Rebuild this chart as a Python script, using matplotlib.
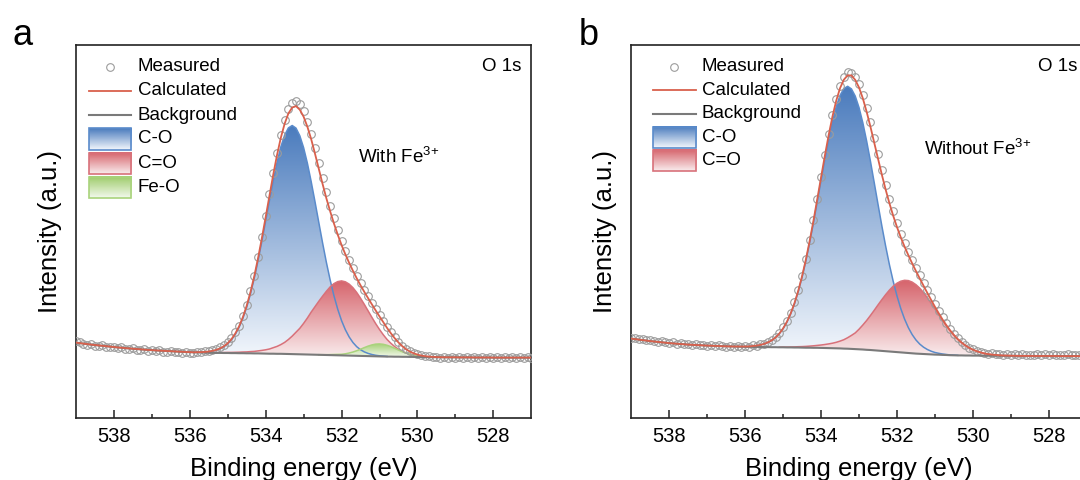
import numpy as np
import matplotlib
matplotlib.use('Agg')
import matplotlib.pyplot as plt
from matplotlib.colors import LinearSegmentedColormap
from matplotlib.patches import Rectangle

plt.rcParams['font.family'] = ['Liberation Sans', 'DejaVu Sans']
plt.rcParams['mathtext.default'] = 'regular'

# binding energy grid (eV), shared by both spectra
energy = [
    539.0, 538.9, 538.8, 538.7, 538.6, 538.5, 538.4, 538.3, 538.2, 538.1,
    538.0, 537.9, 537.8, 537.7, 537.6, 537.5, 537.4, 537.3, 537.2, 537.1,
    537.0, 536.9, 536.8, 536.7, 536.6, 536.5, 536.4, 536.3, 536.2, 536.1,
    536.0, 535.9, 535.8, 535.7, 535.6, 535.5, 535.4, 535.3, 535.2, 535.1,
    535.0, 534.9, 534.8, 534.7, 534.6, 534.5, 534.4, 534.3, 534.2, 534.1,
    534.0, 533.9, 533.8, 533.7, 533.6, 533.5, 533.4, 533.3, 533.2, 533.1,
    533.0, 532.9, 532.8, 532.7, 532.6, 532.5, 532.4, 532.3, 532.2, 532.1,
    532.0, 531.9, 531.8, 531.7, 531.6, 531.5, 531.4, 531.3, 531.2, 531.1,
    531.0, 530.9, 530.8, 530.7, 530.6, 530.5, 530.4, 530.3, 530.2, 530.1,
    530.0, 529.9, 529.8, 529.7, 529.6, 529.5, 529.4, 529.3, 529.2, 529.1,
    529.0, 528.9, 528.8, 528.7, 528.6, 528.5, 528.4, 528.3, 528.2, 528.1,
    528.0, 527.9, 527.8, 527.7, 527.6, 527.5, 527.4, 527.3, 527.2, 527.1,
    527.0]

# ---- panel a: with Fe3+ ----
meas_a = [
    76.6, 75.2, 74.1, 73.0, 73.4, 72.0, 71.5, 72.3, 71.0, 70.2,
    70.9, 69.6, 70.3, 69.0, 68.4, 69.5, 68.1, 67.6, 68.6, 67.0,
    67.9, 66.5, 67.4, 66.0, 65.8, 66.9, 65.4, 65.7, 64.9, 65.9,
    64.8, 65.0, 65.8, 65.2, 66.4, 66.9, 67.5, 68.9, 70.8, 72.6,
    75.8, 79.5, 85.6, 92.0, 101.8, 112.5, 126.9, 142.0, 160.4, 180.5,
    201.8, 223.5, 244.5, 264.6, 282.5, 297.8, 308.5, 314.5, 316.2, 314.0,
    306.4, 296.0, 283.5, 269.6, 254.5, 239.9, 225.3, 211.8, 199.2, 187.2,
    176.4, 166.8, 158.0, 149.5, 141.8, 134.6, 127.9, 121.2, 114.8, 108.6,
    102.5, 96.8, 91.0, 85.4, 80.6, 76.0, 72.1, 68.9, 66.6, 64.5,
    63.4, 62.3, 61.2, 61.6, 60.3, 60.9, 59.8, 60.6, 59.9, 60.8,
    59.6, 60.5, 59.9, 60.9, 59.7, 60.3, 59.5, 60.6, 59.8, 60.4,
    59.6, 60.7, 59.9, 60.2, 59.5, 60.5, 59.8, 60.3, 59.7, 60.4,
    60.0]
bg_a = [
    75.0, 74.5, 74.0, 73.5, 73.0, 72.6, 72.2, 71.8, 71.4, 71.0,
    70.6, 70.2, 69.9, 69.5, 69.2, 68.9, 68.6, 68.3, 68.0, 67.7,
    67.5, 67.2, 67.0, 66.8, 66.6, 66.4, 66.2, 66.0, 65.8, 65.6,
    65.5, 65.3, 65.2, 65.1, 65.0, 64.9, 64.8, 64.7, 64.7, 64.6,
    64.6, 64.5, 64.5, 64.4, 64.4, 64.3, 64.3, 64.2, 64.2, 64.1,
    64.0, 63.9, 63.9, 63.8, 63.8, 63.7, 63.6, 63.5, 63.4, 63.3,
    63.2, 63.1, 63.0, 62.9, 62.8, 62.7, 62.6, 62.5, 62.4, 62.3,
    62.2, 62.1, 62.0, 61.9, 61.8, 61.7, 61.6, 61.5, 61.4, 61.3,
    61.2, 61.1, 61.0, 61.0, 60.9, 60.9, 60.8, 60.8, 60.7, 60.7,
    60.6, 60.6, 60.5, 60.5, 60.4, 60.4, 60.4, 60.3, 60.3, 60.3,
    60.3, 60.2, 60.2, 60.2, 60.2, 60.1, 60.1, 60.1, 60.1, 60.1,
    60.0, 60.0, 60.0, 60.0, 60.0, 60.0, 60.0, 60.0, 60.0, 60.0,
    60.0]
co_a = [0.0] * 32 + [
    0.2, 0.4, 0.6, 1.0, 1.7, 2.7, 4.1, 6.2, 9.1, 13.2, 18.7, 25.8, 34.8,
    46.0, 59.4, 75.1, 92.7, 112.1, 132.5, 153.1, 173.0, 191.3, 206.8, 218.6,
    226.1, 228.6, 226.1, 218.6, 206.8, 191.3, 173.0, 153.1, 132.5, 112.1,
    92.7, 75.1, 59.4, 46.0, 34.8, 25.8, 18.7, 13.2, 9.1, 6.2, 4.1, 2.7, 1.7,
    1.0, 0.6, 0.4, 0.2] + [0.0] * 38
cdo_a = [0.0] * 34 + [
    0.1, 0.2, 0.3, 0.3, 0.4, 0.5,
    0.6, 0.7, 0.8, 1.0, 1.2, 1.4, 1.7, 2.0, 2.5, 3.1,
    3.8, 4.7, 6.0, 7.4, 9.2, 11.5, 14.5, 18.0, 22.0, 26.0,
    31.0, 36.5, 42.5, 48.0, 53.5, 58.7, 63.7, 68.2, 71.6, 73.7,
    74.5, 73.7, 71.5, 68.0, 63.3, 57.7, 51.6, 45.2, 38.8, 32.6,
    26.9, 21.7, 17.1, 13.3, 10.1, 7.5, 5.5, 3.9, 2.7, 1.9,
    1.3, 0.8, 0.5, 0.3, 0.2, 0.1] + [0.0] * 25
feo_a = [0.0] * 64 + [
    0.1, 0.2, 0.3, 0.5, 0.7, 0.9, 1.1, 1.7, 2.6, 3.7, 5.1, 6.7, 8.4, 10.0,
    11.3, 12.2, 12.5, 12.2, 11.3, 10.0, 8.4, 6.7, 5.1, 3.7, 2.6, 1.7, 1.1,
    0.6, 0.4, 0.2, 0.1] + [0.0] * 26

# ---- panel b: without Fe3+ ----
meas_b = [
    80.0, 79.4, 78.2, 78.8, 77.3, 77.9, 76.4, 76.0, 76.8, 75.2,
    74.9, 75.6, 74.1, 74.6, 73.5, 74.0, 72.9, 73.6, 72.5, 73.1,
    71.9, 72.7, 71.5, 72.3, 71.2, 70.8, 71.9, 70.6, 71.4, 70.5,
    71.8, 70.9, 72.2, 71.8, 73.4, 74.0, 76.1, 77.6, 81.0, 84.5,
    90.2, 96.4, 105.0, 115.2, 127.9, 142.0, 158.9, 177.5, 197.3, 219.0,
    240.9, 262.8, 283.6, 302.4, 318.8, 331.5, 340.6, 345.8, 345.0, 340.9,
    333.6, 322.9, 309.8, 295.2, 279.6, 263.5, 247.8, 232.9, 219.0, 206.3,
    194.6, 184.1, 174.5, 165.8, 157.6, 149.8, 142.3, 134.9, 127.6, 120.4,
    113.5, 106.8, 100.4, 94.5, 89.0, 84.0, 79.6, 75.9, 72.7, 70.1,
    68.2, 66.6, 65.3, 64.6, 63.9, 64.4, 63.2, 63.8, 62.9, 63.5,
    62.6, 63.4, 62.8, 63.6, 62.5, 63.1, 62.7, 63.5, 62.4, 63.2,
    62.8, 63.6, 62.5, 63.0, 62.6, 63.4, 62.3, 63.1, 62.7, 63.3,
    62.9]
bg_b = [
    79.0, 78.5, 78.0, 77.5, 77.0, 76.5, 76.1, 75.7, 75.3, 74.9,
    74.5, 74.2, 73.9, 73.6, 73.3, 73.0, 72.8, 72.6, 72.4, 72.2,
    72.0, 71.9, 71.7, 71.6, 71.4, 71.3, 71.2, 71.1, 71.0, 70.9,
    70.8, 70.7, 70.7, 70.6, 70.6, 70.5, 70.5, 70.4, 70.4, 70.3,
    70.3, 70.2, 70.2, 70.1, 70.1, 70.0, 69.9, 69.9, 69.8, 69.8,
    69.7, 69.6, 69.5, 69.4, 69.3, 69.2, 69.0, 68.9, 68.7, 68.5,
    68.3, 68.1, 67.8, 67.6, 67.3, 67.0, 66.7, 66.4, 66.1, 65.8,
    65.5, 65.2, 64.9, 64.6, 64.3, 64.0, 63.8, 63.6, 63.4, 63.2,
    63.0, 62.9, 62.7, 62.6, 62.4, 62.3, 62.2, 62.2, 62.1, 62.1,
    62.0, 62.0, 62.0, 61.9, 61.9, 61.9, 61.9, 61.8, 61.8, 61.8,
    61.8, 61.8, 61.7, 61.7, 61.7, 61.7, 61.6, 61.6, 61.6, 61.6,
    61.6, 61.6, 61.6, 61.5, 61.5, 61.5, 61.5, 61.5, 61.5, 61.5,
    61.5]
co_b = [0.0] * 28 + [
    0.1, 0.2, 0.3, 0.5, 0.9, 1.4, 2.1, 3.2, 4.7, 6.8, 9.7, 13.6, 18.7, 25.3,
    33.6, 43.8, 56.1, 70.5, 86.9, 105.3, 125.2, 146.3, 167.7, 188.9, 208.8,
    226.7, 241.7, 253.0, 260.0, 262.4, 260.0, 253.0, 241.7, 226.7, 208.8,
    188.9, 167.7, 146.3, 125.2, 105.3, 86.9, 70.5, 56.1, 43.8, 33.6, 25.3,
    18.7, 13.6, 9.7, 6.8, 4.7, 3.2, 2.1, 1.4, 0.9, 0.5, 0.3, 0.2, 0.1] + [0.0] * 34
cdo_b = [0.0] * 39 + [
    0.1, 0.2, 0.3, 0.4, 0.6, 0.8, 1.0, 1.3, 1.6, 2.0, 2.4, 2.9, 3.5, 4.2,
    5.0, 6.0, 7.3, 8.9, 11.0, 13.5, 16.2, 20.1, 24.5, 29.3, 34.5, 40.0, 45.7,
    51.2, 56.5, 61.4, 65.6, 68.9, 71.2, 72.4,
    72.4, 71.2, 68.9, 65.6, 61.4, 56.5, 51.2, 45.7, 40.0, 34.5, 29.3, 24.5,
    20.1, 16.2, 12.9, 10.1, 7.7, 5.9, 4.4, 3.2, 2.3, 1.6, 1.1, 0.8, 0.5, 0.3,
    0.2, 0.1] + [0.0] * 20

# colours: (light, dark, edge)
c_co = ('#f3f7fc', '#4a7bbd', '#5a8bcb')
c_cdo = ('#f9eced', '#d6636b', '#d8717a')
c_feo = ('#f3f9ec', '#9dcb69', '#a9d37c')
c_calc = '#d9604c'
c_bg = '#7a7a7a'
c_meas = '#9c9c9c'


def grad_fill(ax, x, base, comp, cols):
    top = base + comp
    mask = comp > 0
    poly = ax.fill_between(x, base, top, facecolor='none', edgecolor='none')
    cmap = LinearSegmentedColormap.from_list('g', [cols[0], cols[1]])
    img = ax.imshow(np.linspace(0, 1, 256).reshape(-1, 1), cmap=cmap, aspect='auto',
                    origin='lower', interpolation='bilinear', zorder=1,
                    extent=[x.min(), x.max(), base[mask].min(), top.max()])
    img.set_clip_path(poly.get_paths()[0], transform=ax.transData)
    ax.plot(x[mask], top[mask], color=cols[2], lw=1.1, zorder=2)


def legend_patch(ax, x0, x1, yc, h, cols):
    ax.imshow(np.linspace(0, 1, 64).reshape(-1, 1), cmap=LinearSegmentedColormap.from_list('g', [cols[0], cols[1]]),
              aspect='auto', origin='lower', extent=[x0, x1, yc - h / 2, yc + h / 2],
              transform=ax.transAxes, zorder=5, clip_on=False)
    ax.add_patch(Rectangle((x0, yc - h / 2), x1 - x0, h, transform=ax.transAxes, fill=False,
                           edgecolor=cols[2], lw=1.2, zorder=6, clip_on=False))


def draw_panel(ax, meas, bg, comps, note, leg):
    x = np.array(energy)
    bg = np.array(bg)
    total = bg.copy()
    for comp, cols, name in comps:
        comp = np.array(comp)
        grad_fill(ax, x, bg, comp, cols)
        total = total + comp
    ax.plot(x, meas, 'o', ms=5.5, mfc='none', mec=c_meas, mew=0.8, zorder=3)
    ax.plot(x, bg, color=c_bg, lw=1.5, zorder=4)
    ax.plot(x, total, color=c_calc, lw=1.3, zorder=4)

    # hand-made legend
    lx0, lx1, mx, tx, rows = leg
    fs = 13.5
    ax.plot([mx], [rows[0]], 'o', ms=5.5, mfc='none', mec=c_meas, mew=0.8,
            transform=ax.transAxes, clip_on=False)
    ax.text(tx, rows[0], 'Measured', transform=ax.transAxes, va='center', fontsize=fs)
    ax.plot([lx0, lx1], [rows[1]] * 2, color=c_calc, lw=1.3, transform=ax.transAxes)
    ax.text(tx, rows[1], 'Calculated', transform=ax.transAxes, va='center', fontsize=fs)
    ax.plot([lx0, lx1], [rows[2]] * 2, color=c_bg, lw=1.5, transform=ax.transAxes)
    ax.text(tx, rows[2], 'Background', transform=ax.transAxes, va='center', fontsize=fs)
    for k, (comp, cols, name) in enumerate(comps):
        legend_patch(ax, lx0, lx1, rows[3 + k], 0.057, cols)
        ax.text(tx, rows[3 + k], name, transform=ax.transAxes, va='center', fontsize=fs)

    ax.text(0.979, rows[0], 'O 1s', transform=ax.transAxes, ha='right', va='center', fontsize=fs)
    ax.text(note[0], note[1], note[2], transform=ax.transAxes, va='center', fontsize=fs)

    ax.set_xlim(539, 527)
    ax.set_ylim(0, 372.5)
    ax.set_xticks([538, 536, 534, 532, 530, 528])
    ax.set_xticks([537, 535, 533, 531, 529], minor=True)
    ax.set_yticks([])
    ax.tick_params(axis='x', which='major', direction='in', length=5.5, width=1.1,
                   labelsize=14.5, pad=7, color='#222222')
    ax.tick_params(axis='x', which='minor', direction='in', length=3, width=1.1, color='#222222')
    for s in ax.spines.values():
        s.set_linewidth(1.2)
        s.set_color('#222222')
    ax.set_xlabel('Binding energy (eV)', fontsize=18.5, labelpad=8)
    ax.set_ylabel('Intensity (a.u.)', fontsize=18.5, labelpad=10)


fig = plt.figure(figsize=(10.8, 4.8), dpi=100)
ax_a = fig.add_axes([0.0702, 0.130, 0.4218, 0.776])
ax_b = fig.add_axes([0.5845, 0.130, 0.4218, 0.776])

draw_panel(ax_a, meas_a, bg_a,
           [(co_a, c_co, 'C-O'), (cdo_a, c_cdo, 'C=O'), (feo_a, c_feo, 'Fe-O')],
           (0.62, 0.70, 'With Fe$^{3{+}}$'),
           (0.0285, 0.121, 0.075, 0.136, [0.942, 0.877, 0.812, 0.748, 0.683, 0.618]))
draw_panel(ax_b, meas_b, bg_b,
           [(co_b, c_co, 'C-O'), (cdo_b, c_cdo, 'C=O')],
           (0.643, 0.722, 'Without Fe$^{3{+}}$'),
           (0.047, 0.142, 0.094, 0.155, [0.942, 0.879, 0.816, 0.752, 0.690]))

fig.text(13 / 1080, 1 - 45 / 480, 'a', fontsize=26, va='baseline')
fig.text(579 / 1080, 1 - 45 / 480, 'b', fontsize=26, va='baseline')

fig.savefig('out.png', dpi=100)
